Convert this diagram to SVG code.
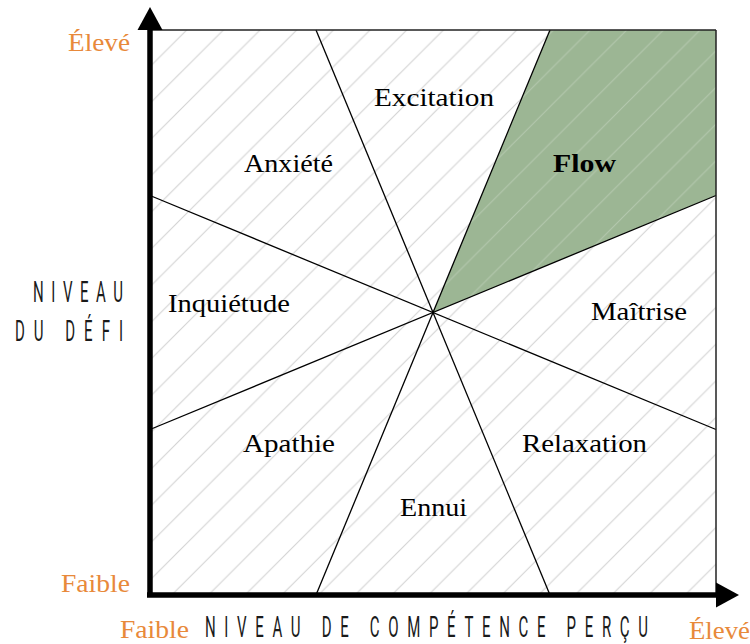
<svg xmlns="http://www.w3.org/2000/svg" width="750" height="644" viewBox="0 0 750 644">
<style>
.lbl{font-family:"Liberation Serif",serif;font-size:25px;fill:#000}
.org{font-family:"Liberation Serif",serif;font-size:25px;fill:#e8893a}
.ax{font-family:Roboto,"Liberation Sans",sans-serif;font-size:30px;fill:#1a1a1a;font-weight:400}
.sep{stroke:#000;stroke-width:1.3;fill:none}
</style>
<defs>
<pattern id="hatch" patternUnits="userSpaceOnUse" x="216.7" y="0" width="36.67" height="36.67">
<path d="M0,36.67 L36.67,0 M-2,2 L2,-2 M34.67,38.67 L38.67,34.67" stroke="#d2d2d2" stroke-width="1.1"/>
</pattern>
<pattern id="hatch2" patternUnits="userSpaceOnUse" x="216.7" y="0" width="36.67" height="36.67">
<path d="M0,36.67 L36.67,0 M-2,2 L2,-2 M34.67,38.67 L38.67,34.67" stroke="#ffffff" stroke-opacity="0.25" stroke-width="1"/>
</pattern>
</defs>
<rect width="750" height="644" fill="#fff"/>
<g id="plane">
<rect x="150" y="30" width="566" height="565" fill="url(#hatch)"/>
</g>
<g id="flow-zone">
<polygon points="433,312.5 550,30 716,30 716,195.5" fill="#9cb694"/>
<polygon points="433,312.5 550,30 716,30 716,195.5" fill="url(#hatch2)"/>
</g>
<g id="connectors">
<line class="sep" x1="316" y1="30" x2="550" y2="595"/>
<line class="sep" x1="550" y1="30" x2="316" y2="595"/>
<line class="sep" x1="150" y1="195.5" x2="716" y2="429.5"/>
<line class="sep" x1="150" y1="429.5" x2="716" y2="195.5"/>
<line x1="150" y1="30" x2="716" y2="30" stroke="#222" stroke-width="1.5"/>
<line x1="716" y1="30" x2="716" y2="595" stroke="#222" stroke-width="1.5"/>
<line x1="150" y1="597" x2="150" y2="26" stroke="#000" stroke-width="5.5"/>
<polygon points="150,7 137.5,30 162.5,30" fill="#000"/>
<line x1="147" y1="595" x2="720" y2="595" stroke="#000" stroke-width="5.5"/>
<polygon points="739,595 716,582.5 716,607.5" fill="#000"/>
</g>
<g id="excitation"><text class="lbl" x="374" y="106" textLength="120" lengthAdjust="spacingAndGlyphs">Excitation</text></g>
<g id="anxiete"><text class="lbl" x="244" y="172" textLength="89" lengthAdjust="spacingAndGlyphs">Anxiété</text></g>
<g id="flow"><text class="lbl" x="553" y="172" textLength="63" lengthAdjust="spacingAndGlyphs" font-weight="bold">Flow</text></g>
<g id="inquietude"><text class="lbl" x="168" y="312" textLength="122" lengthAdjust="spacingAndGlyphs">Inquiétude</text></g>
<g id="maitrise"><text class="lbl" x="591" y="320" textLength="96" lengthAdjust="spacingAndGlyphs">Maîtrise</text></g>
<g id="apathie"><text class="lbl" x="243" y="452" textLength="92" lengthAdjust="spacingAndGlyphs">Apathie</text></g>
<g id="relaxation"><text class="lbl" x="522" y="452" textLength="125" lengthAdjust="spacingAndGlyphs">Relaxation</text></g>
<g id="ennui"><text class="lbl" x="400" y="516" textLength="67" lengthAdjust="spacingAndGlyphs">Ennui</text></g>
<g id="y-labels">
<text class="org" x="68" y="51" textLength="62" lengthAdjust="spacingAndGlyphs">Élevé</text>
<text class="org" x="61" y="592" textLength="69" lengthAdjust="spacingAndGlyphs">Faible</text>
<text class="ax" transform="translate(123,302) scale(0.5,1)" text-anchor="end" textLength="180" lengthAdjust="spacing">NIVEAU</text>
<text class="ax" transform="translate(123,341) scale(0.5,1)" text-anchor="end" textLength="216" lengthAdjust="spacing">DU DÉFI</text>
</g>
<g id="x-labels">
<text class="org" x="120" y="638" textLength="69" lengthAdjust="spacingAndGlyphs">Faible</text>
<text class="org" x="689" y="639" textLength="61" lengthAdjust="spacingAndGlyphs">Élevé</text>
<text class="ax" transform="translate(205,637) scale(0.5,1)" textLength="886" lengthAdjust="spacing">NIVEAU DE COMPÉTENCE PERÇU</text>
</g>
</svg>
